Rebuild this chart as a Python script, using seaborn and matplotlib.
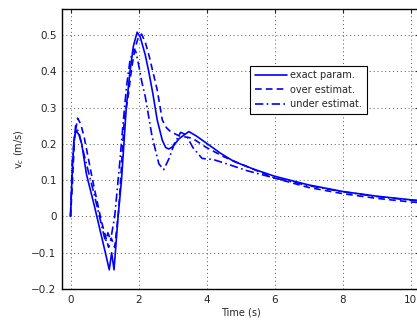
import matplotlib
matplotlib.use("Agg")
import matplotlib.pyplot as plt
import seaborn as sns
import pandas as pd
from matplotlib.ticker import FuncFormatter

# exact parameters (solid)
t_exact = [0, 0.05, 0.1, 0.16, 0.25, 0.33, 0.47, 0.7, 0.9, 1.05, 1.14, 1.21, 1.28,
           1.4, 1.5, 1.57, 1.64, 1.75, 1.85, 1.96, 2.05, 2.2, 2.3, 2.42, 2.55, 2.7,
           2.8, 2.89, 3.0, 3.2, 3.48, 3.7, 4.0, 4.4, 4.8, 5.4, 6.0, 7.0, 8.0, 9.0,
           10.0, 10.5]
v_exact = [0, 0.12, 0.21, 0.237, 0.225, 0.2, 0.116, 0.03, -0.05, -0.11, -0.147, -0.1,
           -0.147, 0.0, 0.1, 0.2, 0.3, 0.4, 0.47, 0.508, 0.495, 0.445, 0.4, 0.34,
           0.266, 0.21, 0.19, 0.186, 0.192, 0.215, 0.234, 0.222, 0.202, 0.175, 0.152,
           0.13, 0.111, 0.087, 0.069, 0.056, 0.046, 0.042]

# over estimated parameters (dashed)
t_over = [0, 0.05, 0.12, 0.21, 0.3, 0.4, 0.65, 0.9, 1.12, 1.2, 1.3, 1.42, 1.5, 1.58,
          1.68, 1.8, 1.9, 2.0, 2.09, 2.2, 2.32, 2.42, 2.55, 2.7, 2.82, 2.94, 3.2,
          3.58, 4.0, 4.5, 5.0, 6.0, 7.0, 8.0, 9.0, 10.0, 10.5]
v_over = [0, 0.08, 0.22, 0.271, 0.255, 0.22, 0.1, -0.01, -0.085, -0.06, -0.085,
          0.02, 0.14, 0.266, 0.321, 0.41, 0.465, 0.495, 0.503, 0.48, 0.44, 0.4,
          0.349, 0.266, 0.245, 0.234, 0.222, 0.216, 0.19, 0.165, 0.145, 0.106,
          0.08, 0.063, 0.05, 0.04, 0.037]

# under estimated parameters (dash-dot)
t_under = [0, 0.05, 0.15, 0.25, 0.4, 0.7, 1.03, 1.1, 1.18, 1.3, 1.45, 1.55, 1.65,
           1.75, 1.85, 1.92, 2.0, 2.1, 2.2, 2.4, 2.6, 2.74, 2.9, 3.05, 3.24, 3.4,
           3.6, 3.87, 4.2, 4.6, 5.2, 6.0, 7.0, 8.0, 9.0, 10.0, 10.5]
v_under = [0, 0.15, 0.25, 0.23, 0.17, 0.06, -0.07, -0.045, -0.065, 0.0, 0.15, 0.26,
           0.36, 0.43, 0.46, 0.455, 0.42, 0.37, 0.33, 0.22, 0.145, 0.129, 0.16, 0.2,
           0.232, 0.225, 0.19, 0.16, 0.157, 0.145, 0.126, 0.106, 0.085, 0.068,
           0.055, 0.045, 0.041]

x_ticks = [0, 2, 4, 6, 8, 10]
y_ticks = [-0.2, -0.1, 0, 0.1, 0.2, 0.3, 0.4, 0.5]

sns.set_style("white")
plt.rcParams["font.family"] = ["DejaVu Sans"]
plt.rcParams["font.size"] = 7

fig = plt.figure(figsize=(4.17, 3.22), dpi=100)
ax = fig.add_axes([62 / 417, 33 / 322, 357 / 417, 280 / 322])

series = [
    ("exact param.", t_exact, v_exact, "-"),
    ("over estimat.", t_over, v_over, (0, (4, 2.5))),
    ("under estimat.", t_under, v_under, (0, (5, 2, 1, 2))),
]
for name, t, v, ls in series:
    df = pd.DataFrame({"t": t, "v": v})
    sns.lineplot(data=df, x="t", y="v", ax=ax, color="#0000ff", lw=1.2,
                 linestyle=ls, label=name)

ax.set_xlim(-0.25, 10.25)
ax.set_ylim(-0.2, 0.572)
ax.set_xticks(x_ticks)
ax.set_yticks(y_ticks)
ax.yaxis.set_major_formatter(FuncFormatter(lambda y, p: "0" if abs(y) < 1e-9 else f"{y:.1f}".replace("-", "\u2212")))
ax.grid(True, linestyle=(0, (1, 3)), color="#555555", lw=0.7)
ax.tick_params(direction="in", top=True, right=True, length=3, labelsize=7.5, pad=4)
for s in ax.spines.values():
    s.set_visible(True)
    s.set_color("black")
    s.set_linewidth(1.0)

ax.set_xlabel("Time (s)", fontsize=7, labelpad=2)
ax.set_ylabel(r"v$_c$ (m/s)", fontsize=7, labelpad=4)

leg = ax.legend(loc="upper left", bbox_to_anchor=(0.527, 0.796), fancybox=False,
                edgecolor="black", framealpha=1, fontsize=7, handlelength=3.3,
                borderpad=0.45, labelspacing=0.45, handletextpad=0.4, borderaxespad=0)
leg.get_frame().set_linewidth(0.8)

fig.savefig("out.png", dpi=100)
